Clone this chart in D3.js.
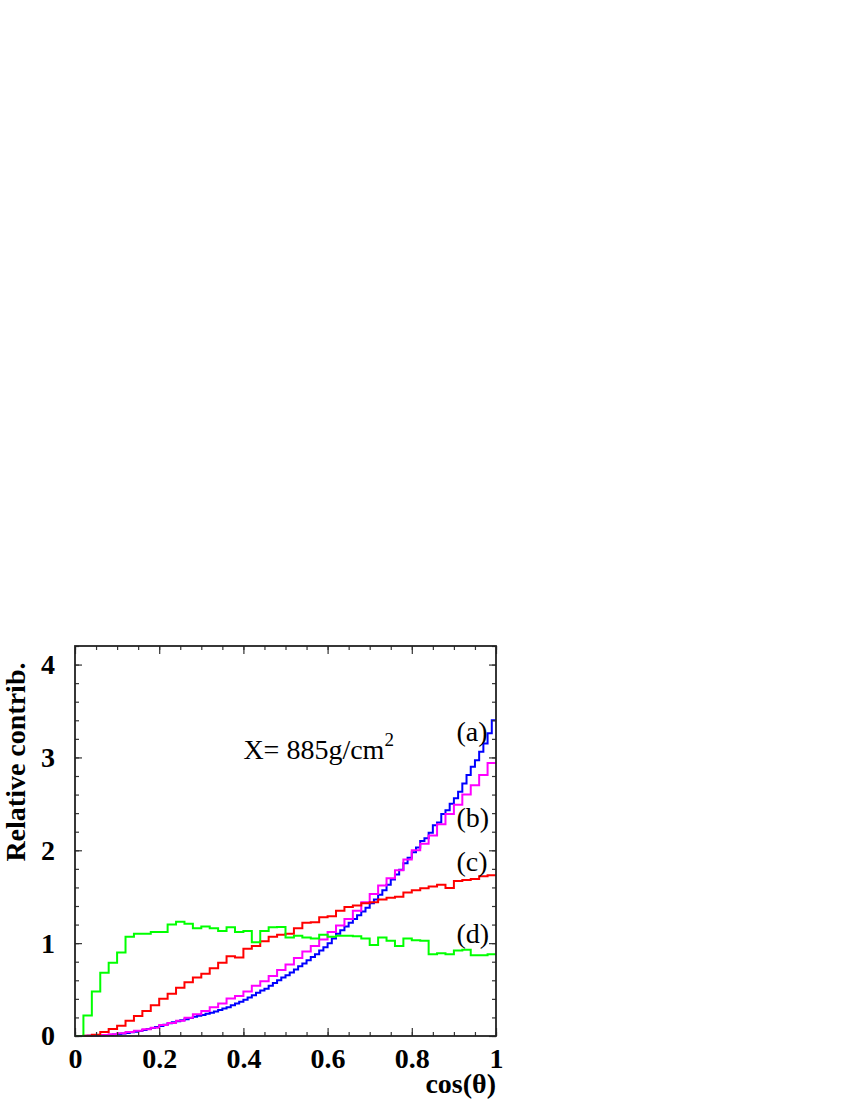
<!DOCTYPE html>
<html>
<head>
<meta charset="utf-8">
<script src="https://cdn.jsdelivr.net/npm/d3@7"></script>
<style>
  body { margin: 0; background: #fff; }
  text { font-family: "Liberation Serif", "Times New Roman", serif; }
</style>
</head>
<body>
<div id="chart"></div>
<script>
// histogram contents, cos(theta) from 0 to 1
const binsA = [ // (a) blue, 100 bins
  0, 0, 0.001, 0.002, 0.003, 0.004, 0.006, 0.008, 0.011, 0.016,
  0.022, 0.027, 0.032, 0.04, 0.047, 0.055, 0.065, 0.075, 0.086, 0.097,
  0.108, 0.122, 0.136, 0.147, 0.158, 0.17, 0.18, 0.195, 0.208, 0.217,
  0.226, 0.24, 0.25, 0.265, 0.28, 0.295, 0.31, 0.33, 0.35, 0.37,
  0.39, 0.415, 0.44, 0.465, 0.49, 0.51, 0.54, 0.57, 0.6, 0.63,
  0.655, 0.685, 0.715, 0.75, 0.78, 0.815, 0.85, 0.88, 0.92, 0.955,
  1.0, 1.05, 1.1, 1.14, 1.18, 1.22, 1.26, 1.3, 1.34, 1.38,
  1.43, 1.47, 1.52, 1.57, 1.63, 1.685, 1.74, 1.79, 1.86, 1.92,
  1.98, 2.03, 2.1, 2.13, 2.19, 2.27, 2.3, 2.39, 2.43, 2.5,
  2.56, 2.63, 2.72, 2.81, 2.9, 2.97, 3.06, 3.15, 3.26, 3.4
];
const binsB = [ // (b) magenta, 50 bins
  0, 0.003, 0.006, 0.01, 0.018, 0.029, 0.043, 0.057, 0.072, 0.09,
  0.118, 0.14, 0.165, 0.197, 0.233, 0.27, 0.31, 0.35, 0.405, 0.43,
  0.48, 0.54, 0.59, 0.645, 0.71, 0.77, 0.84, 0.91, 0.97, 1.04,
  1.12, 1.19, 1.26, 1.35, 1.44, 1.53, 1.62, 1.7, 1.785, 1.9,
  2.0, 2.07, 2.16, 2.28, 2.39, 2.49, 2.6, 2.7, 2.81, 2.94
];
const binsC = [ // (c) red, 50 bins
  0, 0.003, 0.014, 0.043, 0.075, 0.11, 0.165, 0.215, 0.27, 0.33,
  0.4, 0.455, 0.52, 0.58, 0.63, 0.67, 0.73, 0.79, 0.86, 0.845,
  0.94, 0.97, 1.02, 1.07, 1.09, 1.1, 1.16, 1.22, 1.225, 1.28,
  1.29, 1.35, 1.39, 1.405, 1.43, 1.44, 1.47, 1.49, 1.5, 1.545,
  1.57, 1.59, 1.61, 1.63, 1.595, 1.67, 1.68, 1.69, 1.72, 1.73
];
const binsD = [ // (d) green, 50 bins
  0, 0.22, 0.48, 0.68, 0.79, 0.9, 1.07, 1.1, 1.1, 1.12,
  1.12, 1.2, 1.23, 1.21, 1.16, 1.18, 1.16, 1.13, 1.17, 1.12,
  1.13, 1.01, 1.13, 1.17, 1.175, 1.06, 1.08, 1.06, 1.05, 1.09,
  1.07, 1.08, 1.08, 1.075, 1.05, 0.98, 1.06, 1.025, 0.97, 1.05,
  1.03, 1.025, 0.88, 0.89, 0.88, 0.92, 0.93, 0.87, 0.87, 0.88
];
const xTicks = [0, 0.2, 0.4, 0.6, 0.8, 1];
const yTicks = [0, 1, 2, 3, 4];
const curveLabels = ["(a)", "(b)", "(c)", "(d)"];

const margin = {top: 646, right: 354, bottom: 64, left: 75};
const width = 850 - margin.left - margin.right;
const height = 1100 - margin.top - margin.bottom;

const svg = d3.select("#chart")
    .append("svg")
    .attr("width", 850)
    .attr("height", 1100)
    .append("g")
    .attr("transform", `translate(${margin.left},${margin.top})`);

const xScale = d3.scaleLinear().domain([0, 1]).range([0, width]);
const yScale = d3.scaleLinear().domain([0, 4.2]).range([height, 0]);

// histogram outline: one point per bin low edge, plus the upper end
function steps(bins) {
    const w = 1 / bins.length;
    const pts = bins.map((v, i) => [i * w, v]);
    pts.push([1, bins[bins.length - 1]]);
    return pts;
}

const line = d3.line()
    .x(d => xScale(d[0]))
    .y(d => yScale(d[1]))
    .curve(d3.curveStepAfter);

const series = [
    {bins: binsA, color: "#0000ff"},
    {bins: binsB, color: "#ff00ff"},
    {bins: binsC, color: "#ff0000"},
    {bins: binsD, color: "#00ff00"}
];

series.forEach(s => {
    svg.append("path")
        .datum(steps(s.bins))
        .attr("fill", "none")
        .attr("stroke", s.color)
        .attr("stroke-width", 2)
        .attr("d", line);
});

// axes, ticks pointing inwards like the original
const minorX = d3.range(0, 1.0001, 0.05);
const minorY = d3.range(0, 4.2001, 0.2);

function styleAxis(g) {
    g.select(".domain").remove();
    g.selectAll("line").attr("stroke", "#333").attr("stroke-width", 1.2);
}

svg.append("g")
    .attr("transform", `translate(0,${height})`)
    .call(d3.axisBottom(xScale).tickValues(minorX).tickSize(-4).tickFormat(""))
    .call(styleAxis);
svg.append("g")
    .attr("transform", `translate(0,${height})`)
    .call(d3.axisBottom(xScale).tickValues(xTicks).tickSize(-8).tickPadding(12)
        .tickFormat(d => d === 0 || d === 1 ? d3.format("d")(d) : d3.format(".1f")(d)))
    .call(styleAxis);
svg.append("g")
    .call(d3.axisTop(xScale).tickValues(minorX).tickSize(-4).tickFormat(""))
    .call(styleAxis);
svg.append("g")
    .call(d3.axisTop(xScale).tickValues(xTicks).tickSize(-8).tickFormat(""))
    .call(styleAxis);

svg.append("g")
    .call(d3.axisLeft(yScale).tickValues(minorY).tickSize(-4).tickFormat(""))
    .call(styleAxis);
svg.append("g")
    .call(d3.axisLeft(yScale).tickValues(yTicks).tickSize(-7).tickPadding(20).tickFormat(d3.format("d")))
    .call(styleAxis);
svg.append("g")
    .attr("transform", `translate(${width},0)`)
    .call(d3.axisRight(yScale).tickValues(minorY).tickSize(-4).tickFormat(""))
    .call(styleAxis);
svg.append("g")
    .attr("transform", `translate(${width},0)`)
    .call(d3.axisRight(yScale).tickValues(yTicks).tickSize(-7).tickFormat(""))
    .call(styleAxis);

svg.selectAll(".tick text")
    .attr("fill", "#000")
    .style("font-family", "'Liberation Serif', serif")
    .style("font-weight", "bold")
    .style("font-size", "28px");

// frame
svg.append("rect")
    .attr("width", width)
    .attr("height", height)
    .attr("fill", "none")
    .attr("stroke", "#222")
    .attr("stroke-width", 1.8);

// axis titles
svg.append("text")
    .attr("x", width)
    .attr("y", height + 57)
    .attr("text-anchor", "end")
    .style("font-weight", "bold")
    .style("font-size", "28px")
    .text("cos(θ)");

svg.append("text")
    .attr("transform", `translate(-50,${yScale(2.95)}) rotate(-90)`)
    .attr("text-anchor", "middle")
    .style("font-weight", "bold")
    .style("font-size", "28px")
    .text("Relative contrib.");

// depth annotation
const note = svg.append("text")
    .attr("x", xScale(0.4));
note.attr("y", yScale(3.0) + 2)
    .style("font-size", "28px");
note.append("tspan").text("X= 885g/cm");
note.append("tspan").attr("dy", -13).style("font-size", "19px").text("2");

// curve labels
const labelY = [3.18, 2.25, 1.78, 1.0];
curveLabels.forEach((t, i) => {
    svg.append("text")
        .attr("x", xScale(0.906))
        .attr("y", yScale(labelY[i]))
        .style("font-size", "28px")
        .text(t);
});
</script>
</body>
</html>
